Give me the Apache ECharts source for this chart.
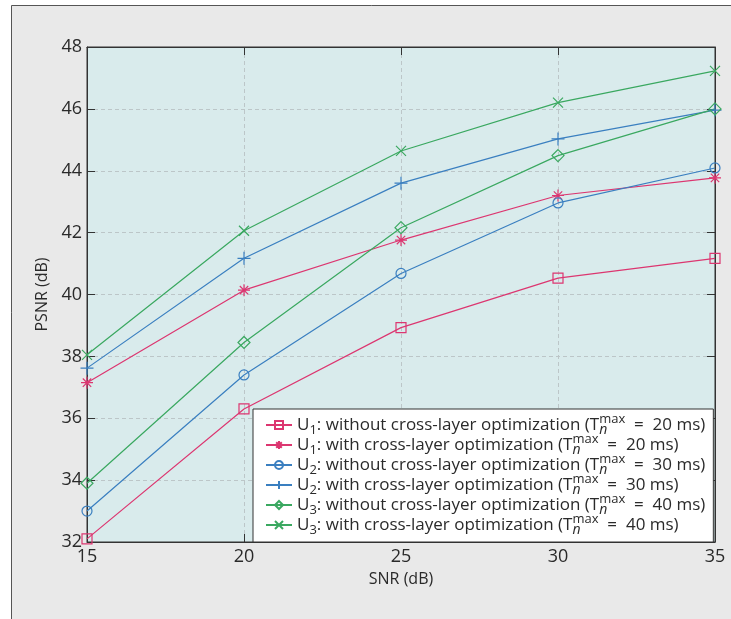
<!DOCTYPE html>
<html><head><meta charset="utf-8">
<script src="https://cdn.jsdelivr.net/npm/echarts@6/dist/echarts.min.js"></script>
<style>html,body{margin:0;padding:0;background:#fff;}#c{width:731px;height:619px;}</style>
</head><body><div id="c"></div>
<script>
const snr = [15, 20, 25, 30, 35];
const u1Without = [32.1, 36.3, 38.93, 40.53, 41.17];
const u1With = [37.15, 40.14, 41.76, 43.2, 43.77];
const u2Without = [33.0, 37.4, 40.68, 42.96, 44.09];
const u2With = [37.62, 41.17, 43.6, 45.03, 45.96];
const u3Without = [33.9, 38.45, 42.16, 44.49, 46.0];
const u3With = [38.05, 42.06, 44.64, 46.2, 47.23];
const yTicks = [32, 34, 36, 38, 40, 42, 44, 46, 48];
const xTicks = [15, 20, 25, 30, 35];
const seriesNames = [
  'U1: without cross-layer optimization (Tn max = 20 ms)',
  'U1: with cross-layer optimization (Tn max = 20 ms)',
  'U2: without cross-layer optimization (Tn max = 30 ms)',
  'U2: with cross-layer optimization (Tn max = 30 ms)',
  'U3: without cross-layer optimization (Tn max = 40 ms)',
  'U3: with cross-layer optimization (Tn max = 40 ms)'
];
const legendParts = [
  ['1', 'without', '20'], ['1', 'with', '20'],
  ['2', 'without', '30'], ['2', 'with', '30'],
  ['3', 'without', '40'], ['3', 'with', '40']
];

const PINK = '#dc3670', BLUE = '#3a7fc0', GREEN = '#3aa860';
const SYM = {
  square: 'path://M0,0L10,0L10,10L0,10Z',
  circle: 'path://M5,0A5,5,0,1,1,4.999,0Z',
  diamond: 'path://M5,0L10,5L5,10L0,5Z',
  plus: 'path://M5,0L5,10M0,5L10,5',
  cross: 'path://M0,0L10,10M10,0L0,10',
  star: 'path://M5,0L5,10M0,5L10,5M1.5,1.5L8.5,8.5M8.5,1.5L1.5,8.5'
};
const dataSets = [u1Without, u1With, u2Without, u2With, u3Without, u3With];
const styles = [
  [PINK, SYM.square, 10], [PINK, SYM.star, 12],
  [BLUE, SYM.circle, 10], [BLUE, SYM.plus, 13],
  [GREEN, SYM.diamond, 12], [GREEN, SYM.cross, 10]
];
const series = dataSets.map((d, i) => ({
  name: seriesNames[i],
  type: 'line',
  data: snr.map((x, j) => [x, d[j]]),
  symbol: styles[i][1],
  symbolSize: styles[i][2],
  color: styles[i][0],
  lineStyle: { color: styles[i][0], width: 1.2 },
  itemStyle: { color: 'rgba(0,0,0,0)', borderColor: styles[i][0], borderWidth: 1.2 },
  emphasis: { disabled: true },
  animation: false,
  z: 3
}));

const FONT = '"Open Sans", "Noto Sans", sans-serif';
const TXT = '#2a2a2a';
const chart = echarts.init(document.getElementById('c'));
chart.setOption({
  backgroundColor: '#ffffff',
  animation: false,
  graphic: [{
    type: 'rect', z: -10, silent: true,
    shape: { x: 11.5, y: 5.5, width: 740, height: 640 },
    style: { fill: '#e9e9e9', stroke: '#555', lineWidth: 1 }
  }],
  grid: {
    left: 87, top: 47, right: 731 - 715, bottom: 619 - 542,
    show: true, backgroundColor: '#d9ebec', borderColor: '#333', borderWidth: 1, z: 0
  },
  xAxis: [{
    type: 'value', min: 15, max: 35, interval: 5,
    name: 'SNR (dB)', nameLocation: 'middle', nameGap: 29,
    nameTextStyle: { fontFamily: FONT, fontSize: 16, color: TXT },
    axisLine: { show: true, onZero: false, lineStyle: { color: '#333', width: 1 } },
    axisTick: { show: true, inside: true, length: 8, lineStyle: { color: '#333' } },
    axisLabel: { fontFamily: FONT, fontSize: 18, color: TXT, margin: 6,
      formatter: v => xTicks.includes(v) ? String(v) : '' },
    splitLine: { show: true, lineStyle: { color: '#bcc6c8', type: [4, 3], width: 1 } }
  }, {
    type: 'value', min: 15, max: 35, interval: 5, position: 'top',
    axisLine: { show: true, lineStyle: { color: '#333' } },
    axisTick: { show: true, inside: true, length: 8, lineStyle: { color: '#333' } },
    axisLabel: { show: false }, splitLine: { show: false }
  }],
  yAxis: [{
    type: 'value', min: 32, max: 48, interval: 2,
    name: 'PSNR (dB)', nameLocation: 'middle', nameGap: 31,
    nameTextStyle: { fontFamily: FONT, fontSize: 16, color: TXT },
    axisLine: { show: true, onZero: false, lineStyle: { color: '#333', width: 1 } },
    axisTick: { show: true, inside: true, length: 8, lineStyle: { color: '#333' } },
    axisLabel: { fontFamily: FONT, fontSize: 18, color: TXT, margin: 5,
      formatter: v => yTicks.includes(v) ? String(v) : '' },
    splitLine: { show: true, lineStyle: { color: '#bcc6c8', type: [4, 3], width: 1 } }
  }, {
    type: 'value', min: 32, max: 48, interval: 2, position: 'right',
    axisLine: { show: true, lineStyle: { color: '#333' } },
    axisTick: { show: true, inside: true, length: 8, lineStyle: { color: '#333' } },
    axisLabel: { show: false }, splitLine: { show: false }
  }],
  legend: {
    orient: 'vertical', left: 253, top: 409,
    backgroundColor: '#ffffff', borderColor: '#333', borderWidth: 1,
    padding: [4, 8, 5, 12], itemGap: -4, itemWidth: 26, itemHeight: 10,
    data: seriesNames,
    selectedMode: false,
    formatter: name => {
      const p = legendParts[seriesNames.indexOf(name)];
      return '{n|U}{u|' + p[0] + '}{n|: ' + p[1] + ' cross-layer optimization (T}{s|n}{p|max}{n|  =  ' + p[2] + ' ms)}';
    },
    textStyle: {
      fontFamily: FONT, color: TXT, fontSize: 17,
      rich: {
        n: { fontFamily: FONT, fontSize: 17, color: TXT, lineHeight: 24 },
        u: { fontFamily: FONT, fontSize: 13, color: TXT, verticalAlign: 'bottom' },
        s: { fontFamily: FONT, fontSize: 14, fontStyle: 'italic', color: TXT, verticalAlign: 'bottom', width: 0.01 },
        p: { fontFamily: FONT, fontSize: 13, color: TXT, verticalAlign: 'top' }
      }
    }
  },
  series: series
});
</script></body></html>
